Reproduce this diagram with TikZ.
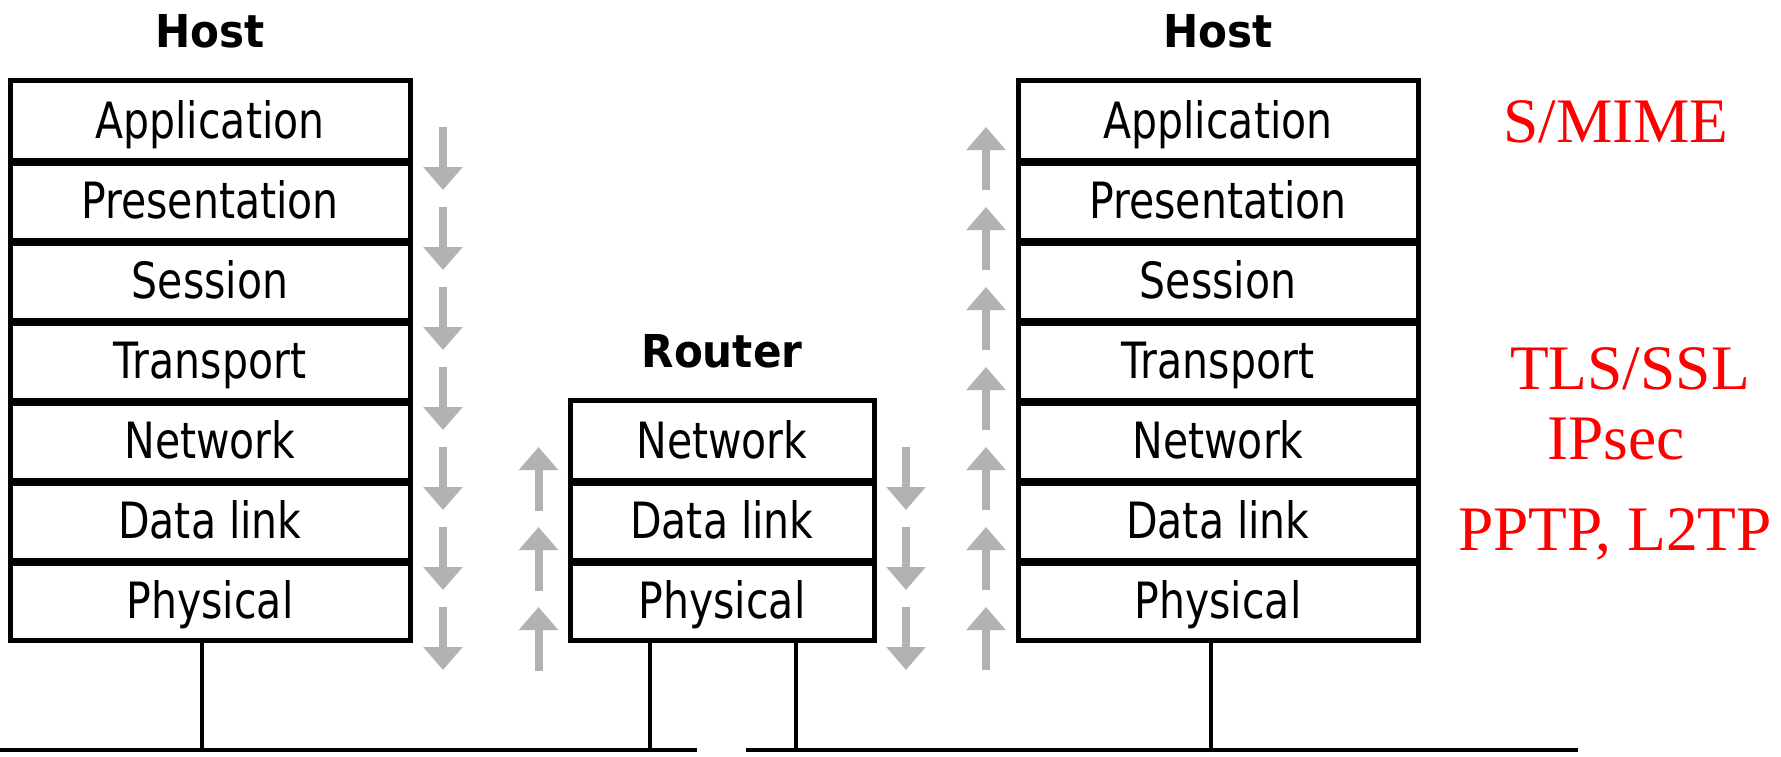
\documentclass[tikz,border=0pt]{standalone}
\usepackage{fontspec}
\usetikzlibrary{arrows.meta}
\newfontfamily\layerfont[FakeStretch=0.82]{DejaVu Sans}
\newfontfamily\titlefont[FakeStretch=0.93]{DejaVu Sans}
\newfontfamily\protofont{Liberation Serif}
\definecolor{arrowgray}{RGB}{178,178,178}
\definecolor{protored}{RGB}{255,0,0}
\begin{document}
\begin{tikzpicture}[x=1pt,y=-1pt,
  layer/.style={draw=black, line width=5pt, inner sep=0pt, minimum height=80pt,
    text height=36.5pt, text depth=0pt, font=\layerfont\fontsize{50pt}{60pt}\selectfont},
  hostlayer/.style={layer, minimum width=400pt},
  routerlayer/.style={layer, minimum width=304pt},
  title/.style={anchor=base, inner sep=0pt, font=\titlefont\bfseries\fontsize{45.3pt}{54pt}\selectfont},
  proto/.style={anchor=base, inner sep=0pt, text=protored, font=\protofont\fontsize{63.4pt}{70pt}\selectfont},
  divider/.style={draw=black, line width=6.7pt},
  wire/.style={draw=black, line width=4.5pt},
  flow/.style={draw=arrowgray, line width=8pt, -{Triangle[width=38pt,length=23pt]}}
]
\fill[white] (0,0) rectangle (1781,756);
\useasboundingbox (0,0) rectangle (1781,756);

% titles
\node[title] (thostL) at (210,47) {Host};
\node[title] (trouter) at (722,367) {Router};
\node[title] (thostR) at (1218,47) {Host};

% left host
\node[hostlayer] (lh1) at (210,120) {Application};
\node[hostlayer] (lh2) at (210,200) {Presentation};
\node[hostlayer] (lh3) at (210,280) {Session};
\node[hostlayer] (lh4) at (210,360) {Transport};
\node[hostlayer] (lh5) at (210,440) {Network};
\node[hostlayer] (lh6) at (210,520) {Data link};
\node[hostlayer] (lh7) at (210,600) {Physical};

% router
\node[routerlayer] (r1) at (722,440) {Network};
\node[routerlayer] (r2) at (722,520) {Data link};
\node[routerlayer] (r3) at (722,600) {Physical};

% right host
\node[hostlayer] (rh1) at (1218,120) {Application};
\node[hostlayer] (rh2) at (1218,200) {Presentation};
\node[hostlayer] (rh3) at (1218,280) {Session};
\node[hostlayer] (rh4) at (1218,360) {Transport};
\node[hostlayer] (rh5) at (1218,440) {Network};
\node[hostlayer] (rh6) at (1218,520) {Data link};
\node[hostlayer] (rh7) at (1218,600) {Physical};

% thicker dividers between layers
\foreach \n in {lh1,lh2,lh3,lh4,lh5,lh6,rh1,rh2,rh3,rh4,rh5,rh6,r1,r2} {
  \draw[divider] (\n.south west) -- (\n.south east);
}

% protocol labels
\node[proto] (psmime) at (1616,142) {S/MIME};
\node[proto] (ptls) at (1630,389) {TLS/SSL};
\node[proto] (pipsec) at (1616,459) {IPsec};
\node[proto] (ppptp) at (1615,550) {PPTP, L2TP};

% bus
\coordinate (busLa) at (0,750);
\coordinate (busLb) at (697,750);
\coordinate (busRa) at (746,750);
\coordinate (busRb) at (1578,750);
\coordinate (stemA) at (202,750);
\coordinate (stemB) at (650,750);
\coordinate (stemC) at (796,750);
\coordinate (stemD) at (1211,750);
\draw[wire] (busLa) -- (busLb);
\draw[wire] (busRa) -- (busRb);
\draw[wire] (lh7.south -| stemA) -- (stemA);
\draw[wire] (r3.south -| stemB) -- (stemB);
\draw[wire] (r3.south -| stemC) -- (stemC);
\draw[wire] (rh7.south -| stemD) -- (stemD);

% flow arrows
\foreach \k in {0,...,6} {
  \coordinate (ds\k) at (443,127+80*\k);
  \coordinate (de\k) at (443,190+80*\k);
  \draw[flow] (ds\k) -- (de\k);
  \coordinate (us\k) at (986,190+80*\k);
  \coordinate (ue\k) at (986,127+80*\k);
  \draw[flow] (us\k) -- (ue\k);
}
\foreach \k in {0,1,2} {
  \coordinate (rus\k) at (538.5,511+80*\k);
  \coordinate (rue\k) at (538.5,447+80*\k);
  \draw[flow] (rus\k) -- (rue\k);
  \coordinate (rds\k) at (906,447+80*\k);
  \coordinate (rde\k) at (906,510+80*\k);
  \draw[flow] (rds\k) -- (rde\k);
}
\end{tikzpicture}
\end{document}
